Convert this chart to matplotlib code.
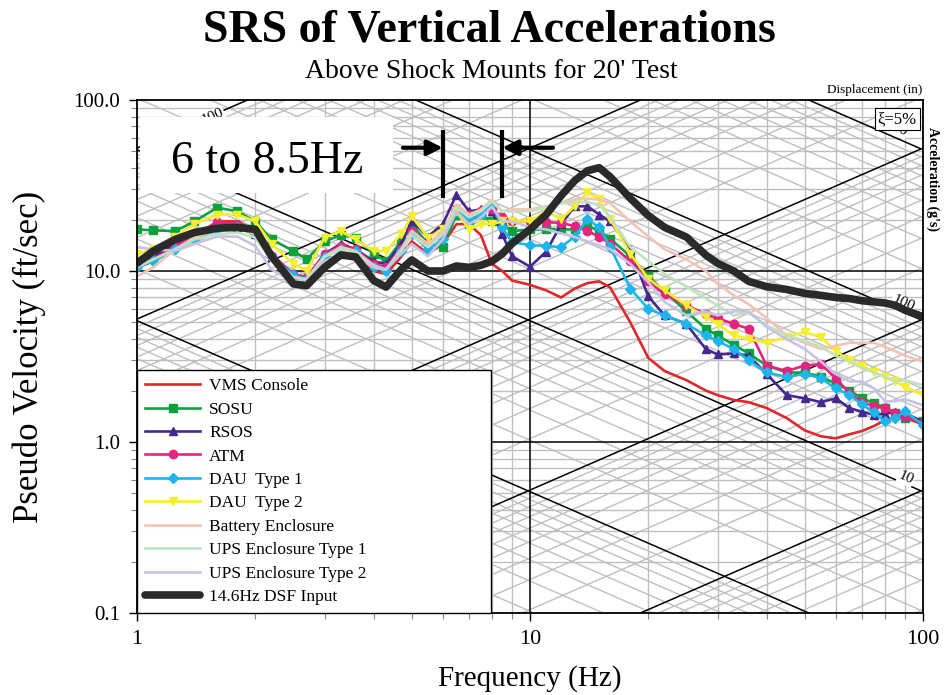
import numpy as np
import matplotlib
matplotlib.use('Agg')
import matplotlib.pyplot as plt
from matplotlib.patches import Rectangle
from matplotlib.ticker import FixedLocator, NullFormatter

plt.rcParams['font.family'] = ['Liberation Serif', 'DejaVu Serif']

# ---------------- data ----------------
freq = [1.0, 1.1, 1.25, 1.4, 1.6, 1.8, 2.0, 2.2, 2.5, 2.7, 3.0, 3.3, 3.6, 4.0, 4.3, 4.7, 5.0,
        5.5, 6.0, 6.5, 7.0, 7.5, 8.0, 8.5, 9.0,
        10, 11, 12, 13, 14, 15, 16, 18, 20, 22, 25, 28, 30, 33, 36, 40, 45, 50, 55, 60,
        65, 70, 75, 80, 85, 90, 100]

vms_console = [10.5, 11.4, 13.4, 15.9, 19.5, 19.5, 17.1, 12.6, 9.5, 9.2, 11.4, 12.6, 12.1, 10.0,
               9.6, 12.1, 14.9, 12.6, 14.4, 18.8, 18.8, 16.2, 11.0, 10.0, 8.8,
               8.3, 7.7, 7.0, 7.9, 8.5, 8.7, 8.0, 5.0, 3.1, 2.6, 2.3, 2.0, 1.88, 1.76, 1.71,
               1.58, 1.38, 1.17, 1.08, 1.05, 1.11, 1.16, 1.24, 1.34, 1.38, 1.38, 1.27]
sosu = [17.5, 17.3, 17.1, 19.5, 23.5, 22.3, 19.5, 15.3, 13.1, 11.7, 14.9, 16.2, 15.7, 12.6, 11.4,
        14.9, 18.8, 14.4, 13.8, 21.4, 18.8, 21.4, 19.5, 18.8, 17.1,
        17.5, 17.5, 17.5, 17.5, 18.5, 17.1, 15.4, 12.2, 9.3, 7.6, 5.8, 4.6, 4.2, 3.7, 3.3, 2.8,
        2.55, 2.55, 2.4, 2.2, 2.0, 1.80, 1.69, 1.58, 1.47, 1.38, 1.32]
rsos = [11.0, 12.1, 14.4, 16.4, 18.0, 18.0, 16.4, 12.1, 9.6, 8.95, 12.6, 14.4, 13.4, 11.4, 11.0,
        14.4, 19.5, 15.9, 18.8, 28.0, 22.3, 22.9, 22.3, 16.4, 12.2,
        10.6, 13.0, 18.8, 23.9, 23.9, 21.4, 19.5, 13.4, 7.1, 5.5, 4.9, 3.5, 3.25, 3.3, 3.2, 2.5,
        1.88, 1.80, 1.71, 1.80, 1.58, 1.50, 1.44, 1.46, 1.50, 1.47, 1.32]
atm = [10.7, 11.7, 14.0, 15.7, 19.3, 18.8, 17.1, 12.2, 9.6, 9.2, 12.6, 14.0, 13.4, 11.0, 10.5,
       13.4, 17.1, 14.4, 16.4, 22.9, 21.4, 22.3, 22.9, 20.6, 19.5,
       19.5, 19.3, 19.1, 18.3, 17.1, 15.9, 14.4, 11.4, 8.7, 7.3, 6.3, 5.6, 5.3, 4.9, 4.6, 2.8,
       2.6, 2.8, 2.85, 2.36, 1.93, 1.71, 1.62, 1.58, 1.47, 1.40, 1.29]
dau_type1 = [10.5, 11.4, 13.4, 15.3, 17.5, 18.0, 16.4, 12.1, 9.5, 8.95, 12.1, 13.4, 13.1, 10.5,
             10.0, 13.1, 16.4, 13.4, 15.3, 22.3, 20.1, 21.4, 24.5, 18.0, 14.7,
             14.2, 14.0, 13.8, 15.9, 20.1, 18.0, 13.8, 7.9, 6.0, 5.5, 4.9, 4.2, 3.9, 3.5, 3.0,
             2.55, 2.4, 2.5, 2.36, 2.06, 1.88, 1.66, 1.49, 1.32, 1.38, 1.51, 1.26]
dau_type2 = [12.6, 13.4, 15.9, 18.8, 21.4, 21.4, 19.5, 14.4, 11.0, 10.0, 15.7, 17.1, 15.3, 13.1,
             13.1, 16.4, 20.9, 15.7, 17.5, 22.3, 17.5, 18.8, 18.8, 19.5, 19.5,
             19.5, 22.4, 20.1, 23.9, 28.8, 26.2, 20.1, 12.6, 9.0, 7.7, 6.3, 5.4, 4.9, 4.2, 4.0,
             3.8, 4.1, 4.4, 4.1, 3.4, 3.0, 2.8, 2.55, 2.4, 2.26, 2.1, 1.88]
battery_encl = [9.3, 10.5, 13.4, 15.7, 17.5, 18.0, 16.4, 12.1, 9.2, 8.95, 12.2, 13.8, 13.1, 10.8,
                10.2, 13.4, 17.1, 14.4, 17.1, 24.5, 21.4, 22.9, 26.2, 22.3, 22.9,
                22.9, 23.9, 24.9, 26.2, 26.5, 26.2, 24.9, 19.5, 15.9, 13.4, 11.7, 10.0, 8.4, 7.2,
                6.4, 5.3, 4.2, 3.8, 3.5, 3.66, 3.8, 3.8, 3.8, 3.6, 3.4, 3.2, 2.95]
ups_type1 = [10.5, 11.7, 13.4, 15.3, 16.4, 16.8, 15.7, 11.4, 9.2, 8.95, 12.1, 13.4, 12.9, 10.5,
             10.2, 13.1, 16.2, 13.8, 16.4, 23.5, 20.6, 22.3, 25.5, 22.3, 22.3,
             22.4, 23.5, 24.9, 25.2, 25.2, 24.5, 20.6, 13.8, 11.4, 9.6, 8.1, 6.9, 6.3, 5.5, 5.7,
             4.8, 4.2, 3.9, 3.6, 3.2, 2.95, 2.7, 2.55, 2.4, 2.26, 2.3, 2.15]
ups_type2 = [13.8, 13.4, 13.1, 14.4, 15.9, 15.9, 14.0, 10.2, 8.6, 8.7, 11.4, 12.6, 12.1, 10.5,
             10.2, 12.6, 14.4, 12.2, 15.3, 22.3, 18.8, 20.6, 23.8, 19.5, 19.5,
             18.0, 17.5, 16.6, 15.8, 14.9, 14.1, 13.4, 11.0, 8.6, 6.6, 5.5, 5.8, 5.5, 5.8, 5.8,
             4.7, 4.0, 3.5, 2.95, 2.5, 2.26, 2.26, 2.06, 1.73, 1.73, 1.78, 1.64]
dsf_input = [11.1, 13.1, 15.3, 16.8, 17.8, 18.0, 17.5, 12.2, 8.4, 8.2, 10.5, 12.4, 12.1, 8.8, 8.05,
             10.2, 11.6, 10.0, 10.0, 10.7, 10.5, 10.8, 11.4, 12.6, 14.5,
             17.5, 21.4, 27.6, 33.8, 38.6, 40.2, 35.5, 26.6, 21.1, 18.0, 15.8, 12.4, 11.1, 10.0,
             8.7, 8.1, 7.8, 7.4, 7.2, 7.0, 6.9, 6.7, 6.6, 6.5, 6.3, 5.9, 5.4]

series_labels = ['VMS Console', 'SOSU', 'RSOS', 'ATM', 'DAU  Type 1', 'DAU  Type 2',
                 'Battery Enclosure', 'UPS Enclosure Type 1', 'UPS Enclosure Type 2',
                 '14.6Hz DSF Input']
series_values = [vms_console, sosu, rsos, atm, dau_type1, dau_type2, battery_encl,
                 ups_type1, ups_type2, dsf_input]
series_colors = ['#e2262b', '#0ba23e', '#44288f', '#e6247f', '#1db5ec', '#f6ee2c',
                 '#f6c2b6', '#bfe3bf', '#c6c3e4', '#2a2a2a']
series_markers = [None, 's', '^', 'o', 'D', 'v', None, None, None, None]

y_ticks = [0.1, 1, 10, 100]
y_ticklabels = ['0.1', '1.0', '10.0', '100.0']
x_ticks = [1, 10, 100]
x_ticklabels = ['1', '10', '100']

band_low, band_high = 6.0, 8.5
G_FTS = 32.174  # ft/s^2 per g

# ---------------- figure ----------------
fig = plt.figure(figsize=(9.49, 6.95), dpi=100)
ax = fig.add_axes([0.1444, 0.1180, 0.8282, 0.7381])
ax.set_xscale('log')
ax.set_yscale('log')
ax.set_xlim(1, 100)
ax.set_ylim(0.1, 100)

grey = '#bfbfbf'
# rectangular grid
minors = [m * d for d in (1, 10) for m in range(2, 10)]
for fx in minors:
    ax.axvline(fx, color=grey, lw=1.0, zorder=1)
ax.axvline(10, color='black', lw=1.1, zorder=1.5)
for vy in [m * d for d in (0.1, 1, 10) for m in range(2, 10)]:
    ax.axhline(vy, color=grey, lw=1.0, zorder=1)
for vy in (1, 10):
    ax.axhline(vy, color='black', lw=1.1, zorder=1.5)

# tripartite diagonal grid
fl = np.array([1.0, 100.0])
for dec in (0.001, 0.01, 0.1, 1, 10, 100, 1000):
    for m in range(1, 10):
        A = dec * m   # acceleration (g)
        ax.plot(fl, A * G_FTS / (2 * np.pi * fl), color='black' if m == 1 else grey,
                lw=1.1 if m == 1 else 1.0, zorder=1.5 if m == 1 else 1)
        D = dec * m   # displacement (in)
        ax.plot(fl, 2 * np.pi * fl * D / 12.0, color='black' if m == 1 else grey,
                lw=1.1 if m == 1 else 1.0, zorder=1.5 if m == 1 else 1)

# diagonal labels
lab_kw = dict(fontsize=11, ha='center', va='center', rotation_mode='anchor', zorder=2,
              bbox=dict(facecolor='white', edgecolor='none', pad=0.5))
ax.text(83.9, 69.7, '1000', rotation=-23.6, **lab_kw)
ax.text(89.0, 6.43, '100', rotation=-23.6, **lab_kw)
ax.text(90.5, 0.617, '10', rotation=-23.6, **lab_kw)
ax.text(1.56, 80.0, '100', rotation=23.6, **lab_kw)

# curves
handles = []
for lab, vals, col, mk in zip(series_labels, series_values, series_colors, series_markers):
    if lab.startswith('14.6'):
        h, = ax.plot(freq, vals, color=col, lw=5.5, solid_capstyle='round',
                     solid_joinstyle='round', zorder=6, label=lab)
    else:
        h, = ax.plot(freq, vals, color=col, lw=1.9, marker=mk,
                     markersize=6 if mk != 'D' else 5, zorder=4, label=lab)
    handles.append(h)

# frequency band annotation box
ax.add_patch(Rectangle((0.004, 0.819), 0.322, 0.148, transform=ax.transAxes,
                       facecolor='white', edgecolor='none', zorder=3))
ax.text(0.165, 0.858, '6 to 8.5Hz', transform=ax.transAxes, ha='center', va='baseline',
        fontsize=33, zorder=7)
ax.vlines([band_low, band_high], 26.9, 66.9, color='black', lw=3.0, zorder=7)
arrow_kw = dict(arrowstyle='-|>,head_length=0.9,head_width=0.45', color='black', lw=3.0,
                shrinkA=0, shrinkB=0)
ax.annotate('', xy=(band_low, 52.6), xytext=(4.75, 52.6), arrowprops=arrow_kw, zorder=7)
ax.annotate('', xy=(band_high, 52.6), xytext=(11.44, 52.6), arrowprops=arrow_kw, zorder=7)

# damping box
ax.text(0.992, 0.978, 'ξ=5%', transform=ax.transAxes, ha='right', va='top', fontsize=12,
        zorder=7, bbox=dict(facecolor='white', edgecolor='black', lw=0.8, pad=2))

# ticks
ax.xaxis.set_major_locator(FixedLocator(x_ticks))
ax.set_xticklabels(x_ticklabels, fontsize=16)
ax.xaxis.set_minor_locator(FixedLocator(minors))
ax.xaxis.set_minor_formatter(NullFormatter())
ax.yaxis.set_major_locator(FixedLocator(y_ticks))
ax.set_yticklabels(y_ticklabels, fontsize=15)
ax.yaxis.set_minor_locator(FixedLocator([m * d for d in (0.1, 1, 10) for m in range(2, 10)]))
ax.yaxis.set_minor_formatter(NullFormatter())
ax.tick_params(which='major', direction='out', length=6, width=1.0, pad=6)
ax.tick_params(which='minor', direction='out', length=4, width=0.8, color='#888888')
for s in ax.spines.values():
    s.set_linewidth(1.3)
    s.set_zorder(8)

ax.set_xlabel('Frequency (Hz)', fontsize=21, labelpad=12)
ax.set_ylabel('Pseudo Velocity (ft/sec)', fontsize=25, labelpad=20)

# legend
leg = ax.legend(handles=handles, loc='lower left', bbox_to_anchor=(0, 0, 0.4504, 1),
                mode='expand', borderaxespad=0, fancybox=False, edgecolor='black',
                framealpha=1, fontsize=12.5, handlelength=3.2, handletextpad=0.5,
                labelspacing=0.42, borderpad=0.45)
leg.get_frame().set_linewidth(1.0)
leg.set_zorder(9)

# titles and side labels
fig.text(0.516, 0.9396, 'SRS of Vertical Accelerations', ha='center', va='baseline',
         fontsize=33, fontweight='bold')
fig.text(0.518, 0.888, "Above Shock Mounts for 20' Test", ha='center', va='baseline',
         fontsize=20)
fig.text(0.972, 0.862, 'Displacement (in)', ha='right', va='bottom', fontsize=9.5)
fig.text(0.983, 0.742, "Acceleration (g's)", ha='center', va='center', rotation=-90,
         fontsize=10, fontweight='bold')

fig.savefig('out.png', dpi=100)
